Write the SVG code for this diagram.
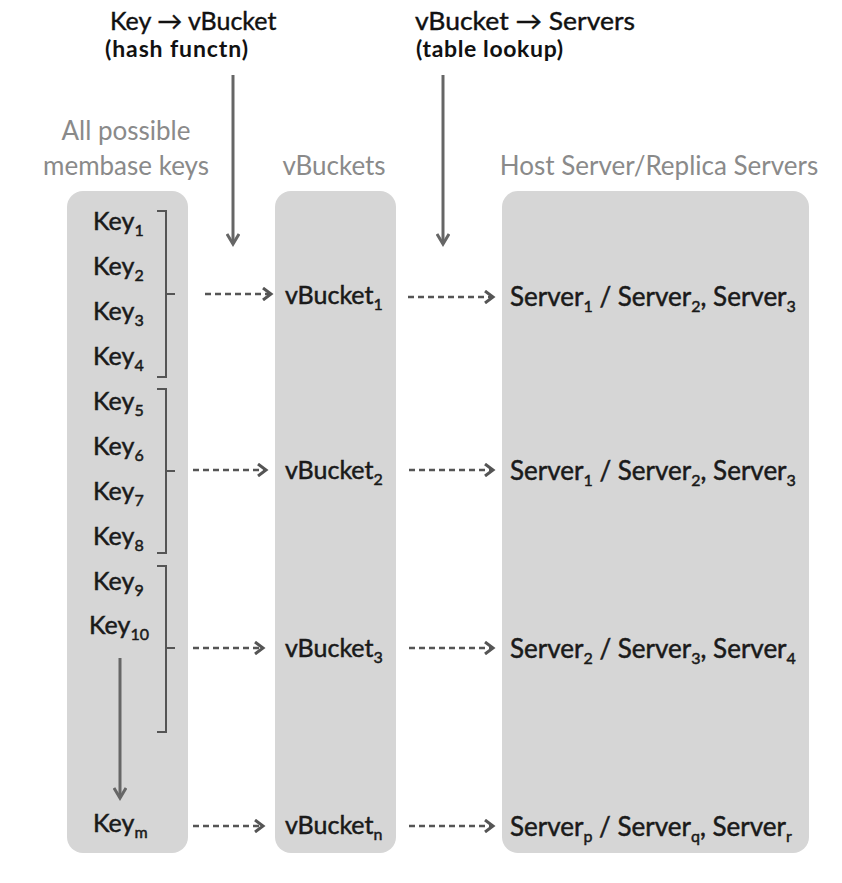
<svg xmlns="http://www.w3.org/2000/svg" width="842" height="883" viewBox="0 0 842 883">
<defs>
<style>
.box{fill:#d6d6d6}
.t{font-family:Lato,"Liberation Sans",sans-serif;fill:#1a1a1a;stroke:#1a1a1a;stroke-width:0.5;font-size:25px}
.h{font-family:Lato,"Liberation Sans",sans-serif;fill:#8a8a8a;font-size:26px}
.ti{font-family:Lato,"Liberation Sans",sans-serif;fill:#111;stroke:#111;stroke-width:0.4;font-size:25px}
.st{font-family:Lato,"Liberation Sans",sans-serif;fill:#111;font-size:23px;font-weight:bold}
.s{font-size:16px}
.dash{stroke:#555;stroke-width:2.5;fill:none;stroke-dasharray:6 4}
.solid{stroke:#666;stroke-width:3;fill:none}
.br{stroke:#555;stroke-width:2;fill:none}
</style>
<marker id="ah" markerWidth="12" markerHeight="14" refX="9" refY="7" orient="auto" markerUnits="userSpaceOnUse">
<path d="M1,1 L9,7 L1,13" fill="none" stroke="#555" stroke-width="3" stroke-dasharray="none"/>
</marker>
<marker id="av" markerWidth="16" markerHeight="14" refX="11" refY="7" orient="auto" markerUnits="userSpaceOnUse">
<path d="M1,1 L11,7 L1,13" fill="none" stroke="#666" stroke-width="3"/>
</marker>
</defs>

<g id="titles">
<text class="ti" x="110" y="30">Key → vBucket</text>
<text class="st" x="105" y="57" textLength="143" lengthAdjust="spacing">(hash functn)</text>
<text class="ti" x="415" y="30" textLength="220" lengthAdjust="spacingAndGlyphs">vBucket → Servers</text>
<text class="st" x="416" y="57" textLength="147" lengthAdjust="spacing">(table lookup)</text>
</g>

<g id="headers">
<text class="h" x="126" y="140" text-anchor="middle">All possible</text>
<text class="h" x="126" y="175" text-anchor="middle">membase keys</text>
<text class="h" x="334" y="175" text-anchor="middle">vBuckets</text>
<text class="h" x="659" y="175" text-anchor="middle">Host Server/Replica Servers</text>
</g>

<g id="keys-column">
<rect class="box" x="67" y="191" width="121" height="662" rx="16"/>
<text class="t" x="93" y="230">Key<tspan class="s" dy="6">1</tspan></text>
<text class="t" x="93" y="275">Key<tspan class="s" dy="6">2</tspan></text>
<text class="t" x="93" y="320">Key<tspan class="s" dy="6">3</tspan></text>
<text class="t" x="93" y="365">Key<tspan class="s" dy="6">4</tspan></text>
<text class="t" x="93" y="410">Key<tspan class="s" dy="6">5</tspan></text>
<text class="t" x="93" y="455">Key<tspan class="s" dy="6">6</tspan></text>
<text class="t" x="93" y="500">Key<tspan class="s" dy="6">7</tspan></text>
<text class="t" x="93" y="545">Key<tspan class="s" dy="6">8</tspan></text>
<text class="t" x="93" y="590">Key<tspan class="s" dy="6">9</tspan></text>
<text class="t" x="89" y="634">Key<tspan class="s" dy="6">10</tspan></text>
<text class="t" x="93" y="832">Key<tspan class="s" dy="6">m</tspan></text>
</g>

<g id="vbuckets-column">
<rect class="box" x="275" y="191" width="121" height="662" rx="16"/>
<text class="t" x="285" y="304">vBucket<tspan class="s" dy="6">1</tspan></text>
<text class="t" x="285" y="479">vBucket<tspan class="s" dy="6">2</tspan></text>
<text class="t" x="285" y="657">vBucket<tspan class="s" dy="6">3</tspan></text>
<text class="t" x="285" y="834">vBucket<tspan class="s" dy="6">n</tspan></text>
</g>

<g id="servers-column">
<rect class="box" x="502" y="191" width="307" height="662" rx="16"/>
<text class="t" x="510" y="306" style="font-size:26px">Server<tspan class="s" dy="6">1</tspan><tspan dy="-6"> / Server</tspan><tspan class="s" dy="6">2</tspan><tspan dy="-6">, Server</tspan><tspan class="s" dy="6">3</tspan></text>
<text class="t" x="510" y="480" style="font-size:26px">Server<tspan class="s" dy="6">1</tspan><tspan dy="-6"> / Server</tspan><tspan class="s" dy="6">2</tspan><tspan dy="-6">, Server</tspan><tspan class="s" dy="6">3</tspan></text>
<text class="t" x="510" y="658" style="font-size:26px">Server<tspan class="s" dy="6">2</tspan><tspan dy="-6"> / Server</tspan><tspan class="s" dy="6">3</tspan><tspan dy="-6">, Server</tspan><tspan class="s" dy="6">4</tspan></text>
<text class="t" x="510" y="836" style="font-size:26px">Server<tspan class="s" dy="6">p</tspan><tspan dy="-6"> / Server</tspan><tspan class="s" dy="6">q</tspan><tspan dy="-6">, Server</tspan><tspan class="s" dy="6">r</tspan></text>
</g>

<g id="connectors">
<path class="solid" d="M233,75 V244" marker-end="url(#av)"/>
<path class="solid" d="M443,75 V244" marker-end="url(#av)"/>
<path class="solid" d="M120,658 V798" marker-end="url(#av)"/>
<path class="br" d="M157,211 H166 V377 H157 M166,294 H175"/>
<path class="br" d="M157,389 H166 V553 H157 M166,471 H175"/>
<path class="br" d="M157,566 H166 V732 H157 M166,648 H175"/>
<path class="dash" d="M205,294 H271" marker-end="url(#ah)"/>
<path class="dash" d="M193,470 H266" marker-end="url(#ah)"/>
<path class="dash" d="M193,648 H263" marker-end="url(#ah)"/>
<path class="dash" d="M193,826 H263" marker-end="url(#ah)"/>
<path class="dash" d="M408,297 H493" marker-end="url(#ah)"/>
<path class="dash" d="M409,470 H493" marker-end="url(#ah)"/>
<path class="dash" d="M409,648 H493" marker-end="url(#ah)"/>
<path class="dash" d="M409,826 H493" marker-end="url(#ah)"/>
</g>
</svg>
